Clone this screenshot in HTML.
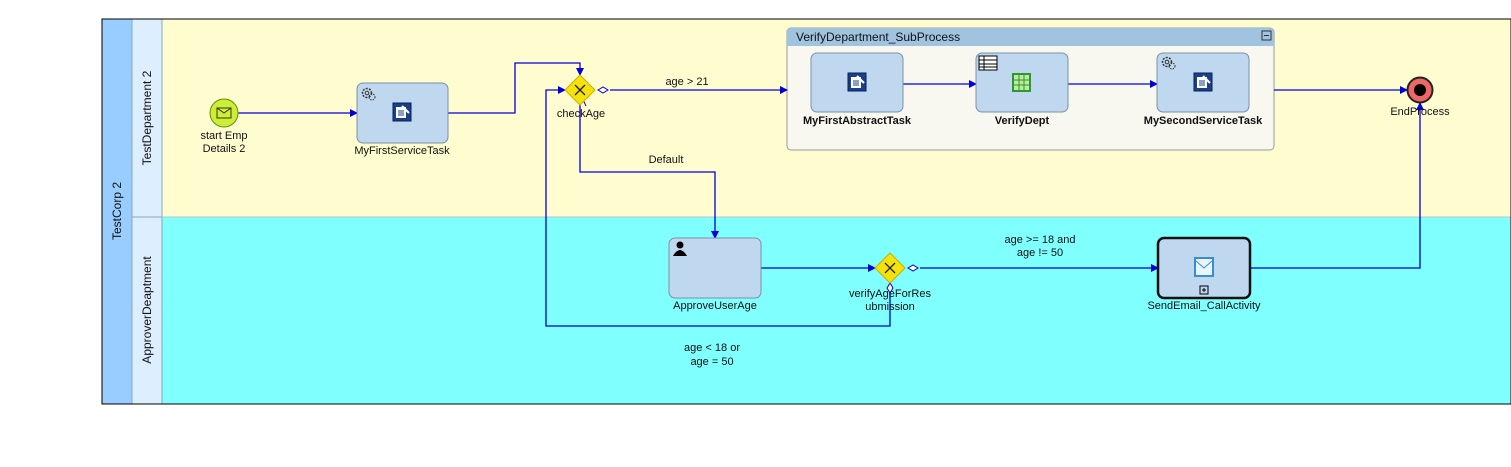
<!DOCTYPE html>
<html><head><meta charset="utf-8"><style>
html,body{margin:0;padding:0;background:#fff;}
svg{display:block;font-family:"Liberation Sans",sans-serif;}
text{font-size:11px;fill:#111;}
</style></head><body>
<svg width="1511" height="467" viewBox="0 0 1511 467" xmlns="http://www.w3.org/2000/svg">
<defs>
<marker id="a" markerWidth="8" markerHeight="8" refX="7" refY="4" orient="auto" markerUnits="userSpaceOnUse"><path d="M0,0 L8,4 L0,8 z" fill="#0000dd"/></marker>
<g id="svc"><rect x="0" y="0" width="18" height="18" fill="#1c3f8a" stroke="#0a1f55"/><rect x="3" y="4" width="10" height="11" fill="#fff"/><path d="M5,8h6M5,10h6M5,12h6" stroke="#1c3f8a"/><path d="M9,3 L16,10" stroke="#fff" stroke-width="2"/></g>
<g id="gear"><circle cx="6" cy="6" r="4.5" fill="none" stroke="#333" stroke-width="1.5" stroke-dasharray="2 1.3"/><circle cx="6" cy="6" r="1.8" fill="none" stroke="#333"/><circle cx="11" cy="10" r="3" fill="none" stroke="#333" stroke-dasharray="1.5 1"/></g>
</defs>
<rect x="102" y="19" width="1409" height="385" fill="#fffdd0" stroke="#000"/>
<rect x="162" y="217" width="1349" height="187" fill="#80ffff"/>
<line x1="132" y1="217" x2="1511" y2="217" stroke="#b0c8c8"/>
<rect x="102" y="19" width="30" height="385" fill="#99ccff"/>
<rect x="132" y="19" width="30" height="385" fill="#ddeeff"/>
<line x1="162" y1="19" x2="162" y2="404" stroke="#8ab"/>
<line x1="132" y1="19" x2="132" y2="404" stroke="#8ab"/>
<line x1="132" y1="217" x2="162" y2="217" stroke="#8ab"/>
<rect x="102" y="19" width="1409" height="385" fill="none" stroke="#000"/>
<text transform="translate(121,211) rotate(-90)" text-anchor="middle" style="font-size:12px">TestCorp 2</text>
<text transform="translate(151,118) rotate(-90)" text-anchor="middle" style="font-size:12px">TestDepartment 2</text>
<text transform="translate(151,310) rotate(-90)" text-anchor="middle" style="font-size:12px">ApproverDeaptment</text>

<!-- subprocess -->
<rect x="787" y="28" width="487" height="122" rx="4" fill="#f8f8f0" stroke="#999"/>
<path d="M787,46 V32 a4,4 0 0 1 4,-4 H1270 a4,4 0 0 1 4,4 V46 z" fill="#a0c4e0"/>
<text x="796" y="41" style="font-size:12px">VerifyDepartment_SubProcess</text>
<rect x="1262" y="31" width="9" height="9" fill="none" stroke="#333"/><line x1="1264" y1="35.5" x2="1269" y2="35.5" stroke="#333"/>

<!-- connectors -->
<g stroke="#0000dd" stroke-width="1.3" fill="none">
<line x1="238" y1="113" x2="357" y2="113" marker-end="url(#a)"/>
<polyline points="448,113 515,113 515,63 580,63 580,75" marker-end="url(#a)"/>
<line x1="610" y1="90" x2="787" y2="90" marker-end="url(#a)"/>
<line x1="903" y1="84" x2="976" y2="84" marker-end="url(#a)"/>
<line x1="1068" y1="84" x2="1157" y2="84" marker-end="url(#a)"/>
<polyline points="1274,90 1407,90" marker-end="url(#a)"/>
<polyline points="580,105 580,172 715,172 715,238" marker-end="url(#a)"/>
<line x1="761" y1="268" x2="875" y2="268" marker-end="url(#a)"/>
<line x1="920" y1="268" x2="1158" y2="268" marker-end="url(#a)"/>
<polyline points="1250,268 1420,268 1420,103" marker-end="url(#a)"/>
<polyline points="890,289 890,326 546,326 546,90 565,90" marker-end="url(#a)"/>
</g>
<line x1="580" y1="93" x2="586" y2="106" stroke="#0000dd"/>
<path d="M598,90 l5,-3 5,3 -5,3z" fill="#fff" stroke="#0000dd"/>
<path d="M908,268 l5,-3 5,3 -5,3z" fill="#fff" stroke="#0000dd"/>
<path d="M890,283 l-3,5 3,5 3,-5z" fill="#fff" stroke="#0000dd"/>

<!-- start -->
<circle cx="224" cy="113" r="14" fill="#ccee33" stroke="#6a8a10"/>
<rect x="217" y="108" width="14" height="10" fill="none" stroke="#333"/><path d="M217,108 l7,5 7,-5" fill="none" stroke="#333"/>
<text x="224" y="139" text-anchor="middle">start Emp</text>
<text x="224" y="152" text-anchor="middle">Details 2</text>

<!-- tasks -->
<g fill="#bfd8ef" stroke="#7a8fa8">
<rect x="357" y="83" width="91" height="60" rx="6"/>
<rect x="811" y="53" width="92" height="59" rx="6"/>
<rect x="976" y="53" width="92" height="59" rx="6"/>
<rect x="1157" y="53" width="92" height="59" rx="6"/>
<rect x="669" y="238" width="92" height="60" rx="6"/>
</g>
<rect x="1158" y="238" width="92" height="60" rx="6" fill="#bfd8ef" stroke="#111" stroke-width="2.5"/>
<use href="#gear" x="361" y="87"/><use href="#svc" x="393" y="103"/>
<text x="402" y="154" text-anchor="middle">MyFirstServiceTask</text>
<use href="#svc" x="848" y="73"/>
<text x="857" y="124" text-anchor="middle" style="font-weight:bold">MyFirstAbstractTask</text>
<rect x="979" y="56" width="18" height="14" fill="#fff" stroke="#000"/><path d="M979,60h18M979,64h18M979,67h18M984,56v14" stroke="#000"/>
<rect x="1012" y="73" width="19" height="19" fill="#2a9a2a"/><rect x="1014" y="75" width="15" height="15" fill="#bfe8a0"/><path d="M1014,80h15M1014,85h15M1019,75v15M1024,75v15" stroke="#2a9a2a"/>
<text x="1022" y="124" text-anchor="middle" style="font-weight:bold">VerifyDept</text>
<use href="#gear" x="1161" y="56"/><use href="#svc" x="1194" y="73"/>
<text x="1203" y="124" text-anchor="middle" style="font-weight:bold">MySecondServiceTask</text>
<circle cx="680" cy="245" r="3.5" fill="#000"/><path d="M673,256 q7,-12 14,0z" fill="#000"/>
<text x="715" y="309" text-anchor="middle">ApproveUserAge</text>
<rect x="1194" y="257" width="20" height="20" fill="#3a8ed0"/><rect x="1196" y="259" width="16" height="16" fill="#e8f4ff"/><path d="M1196,261 l8,7 8,-7" fill="none" stroke="#3a8ed0"/>
<rect x="1200" y="286" width="8" height="8" fill="none" stroke="#000"/><path d="M1202,290h4M1204,288v4" stroke="#000"/>
<text x="1204" y="309" text-anchor="middle">SendEmail_CallActivity</text>

<!-- gateways -->
<path d="M580,75 L595,90 L580,105 L565,90z" fill="#f5e20c" stroke="#c8b000"/>
<path d="M575,85 l10,10 M585,85 l-10,10" stroke="#222" stroke-width="1.3"/>
<text x="581" y="117" text-anchor="middle">checkAge</text>
<path d="M890,253 L905,268 L890,283 L875,268z" fill="#f5e20c" stroke="#c8b000"/>
<path d="M885,263 l10,10 M895,263 l-10,10" stroke="#222" stroke-width="1.3"/>
<text x="890" y="297" text-anchor="middle">verifyAgeForRes</text>
<text x="890" y="310" text-anchor="middle">ubmission</text>

<!-- end -->
<circle cx="1420" cy="90" r="12.5" fill="#ee6666" stroke="#222" stroke-width="2"/>
<circle cx="1420" cy="90" r="6" fill="#000"/>
<text x="1420" y="115" text-anchor="middle">EndProcess</text>

<!-- labels -->
<text x="687" y="85" text-anchor="middle">age &gt; 21</text>
<text x="666" y="163" text-anchor="middle">Default</text>
<text x="1040" y="243" text-anchor="middle">age &gt;= 18 and</text>
<text x="1040" y="256" text-anchor="middle">age != 50</text>
<text x="712" y="351" text-anchor="middle">age &lt; 18 or</text>
<text x="712" y="365" text-anchor="middle">age = 50</text>
</svg>
</body></html>
